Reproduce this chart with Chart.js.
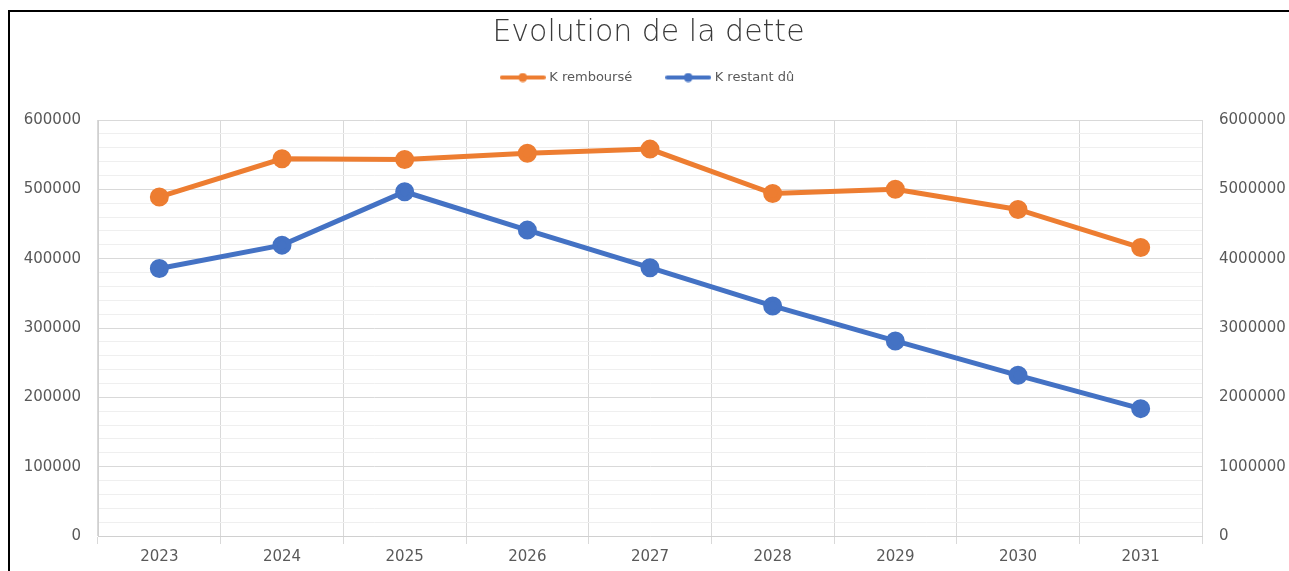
<!DOCTYPE html>
<html lang="fr">
<head>
  <meta charset="UTF-8">
  <title>Evolution de la dette</title>
  <script src="https://cdn.jsdelivr.net/npm/chart.js"></script>
  <style>
    html, body { margin: 0; padding: 0; background: #fff; }
    .chart-container { position: relative; width: 1289px; height: 571px; }
    .frame {
      position: absolute; left: 8px; top: 10px; right: 0; bottom: 0;
      border-left: 2px solid #000; border-top: 2px solid #000;
      pointer-events: none;
    }
  </style>
</head>
<body>

  <div class="chart-container">
    <canvas id="myChart" width="1289" height="571"></canvas>
    <div class="frame"></div>
  </div>

<script>
  // data
  const years = ['2023', '2024', '2025', '2026', '2027', '2028', '2029', '2030', '2031'];
  const k_rembourse = [489000, 544000, 543000, 552000, 558000, 494000, 500000, 471000, 416000];
  const k_restant_du = [3858000, 4195000, 4965000, 4412000, 3870000, 3318000, 2813000, 2318000, 1837000];

  const orange = '#ED7D31';
  const blue = '#4472C4';
  const textColor = '#595959';
  const tickFont = { family: 'DejaVu Sans', size: 15 };

  // little "line with dot" icon for the legend, like excel
  function legendIcon(color) {
    var c = document.createElement('canvas');
    c.width = 46;
    c.height = 10;
    var g = c.getContext('2d');
    g.strokeStyle = color;
    g.lineWidth = 4;
    g.lineCap = 'round';
    g.beginPath();
    g.moveTo(2, 5);
    g.lineTo(44, 5);
    g.stroke();
    g.fillStyle = color;
    g.beginPath();
    g.arc(23, 5, 4.5, 0, Math.PI * 2);
    g.fill();
    return c;
  }

  // more room under the legend
  const legendMargin = {
    id: 'legendMargin',
    beforeInit(chart) {
      const fit = chart.legend.fit;
      chart.legend.fit = function() {
        fit.bind(chart.legend)();
        this.height += 26;
      };
    }
  };

  const ctx = document.getElementById('myChart');

  const data = {
    labels: years,
    datasets: [{
      label: 'K remboursé',
      data: k_rembourse,
      borderColor: orange,
      backgroundColor: orange,
      borderWidth: 5,
      pointRadius: 7,
      pointHoverRadius: 7,
      pointStyle: 'circle',
      yAxisID: 'y'
    },
    {
      label: 'K restant dû',
      data: k_restant_du,
      borderColor: blue,
      backgroundColor: blue,
      borderWidth: 5,
      pointRadius: 7,
      pointHoverRadius: 7,
      pointStyle: 'circle',
      yAxisID: 'y1'
    }]
  };

  const icons = [legendIcon(orange), legendIcon(blue)];

  const config = {
    type: 'line',
    data: data,
    plugins: [legendMargin],
    options: {
      responsive: false,
      animation: false,
      layout: {
        padding: { left: 8, right: 0, top: 0, bottom: 0 }
      },
      plugins: {
        title: {
          display: true,
          text: 'Evolution de la dette',
          color: '#3a3a3a',
          font: { family: 'DejaVu Sans', size: 30, weight: '200' },
          padding: { top: 15, bottom: -16 }
        },
        legend: {
          position: 'top',
          labels: {
            color: textColor,
            font: { family: 'DejaVu Sans', size: 13 },
            usePointStyle: true,
            pointStyleWidth: 40,
            padding: 36,
            generateLabels: function(chart) {
              return chart.data.datasets.map(function(ds, i) {
                return {
                  text: ds.label,
                  fillStyle: ds.borderColor,
                  strokeStyle: ds.borderColor,
                  lineWidth: 0,
                  pointStyle: icons[i],
                  fontColor: textColor,
                  datasetIndex: i
                };
              });
            }
          }
        },
        tooltip: { enabled: false }
      },
      scales: {
        x: {
          offset: true,
          grid: {
            offset: true,
            color: '#d9d9d9',
            tickLength: 8
          },
          border: { color: '#d0d0d0' },
          ticks: {
            color: textColor,
            font: tickFont,
            padding: 4.5
          }
        },
        y: {
          position: 'left',
          min: 0,
          max: 600000,
          afterFit: function(s) { s.width = 90; },
          grid: {
            drawTicks: false,
            color: function(c) {
              return c.tick && c.tick.value % 100000 === 0 ? '#d9d9d9' : '#efefef';
            }
          },
          border: { color: '#d0d0d0' },
          ticks: {
            stepSize: 20000,
            autoSkip: false,
            color: textColor,
            font: tickFont,
            padding: 17,
            callback: function(v) {
              return v % 100000 === 0 ? String(v) : '';
            }
          }
        },
        y1: {
          position: 'right',
          min: 0,
          max: 6000000,
          afterFit: function(s) { s.width = 87; },
          grid: { drawOnChartArea: false, drawTicks: false },
          border: { display: false },
          ticks: {
            stepSize: 1000000,
            color: textColor,
            font: tickFont,
            padding: 17,
            callback: function(v) { return String(v); }
          }
        }
      }
    }
  };

  var chart = new Chart(ctx, config);
</script>
</body>
</html>
